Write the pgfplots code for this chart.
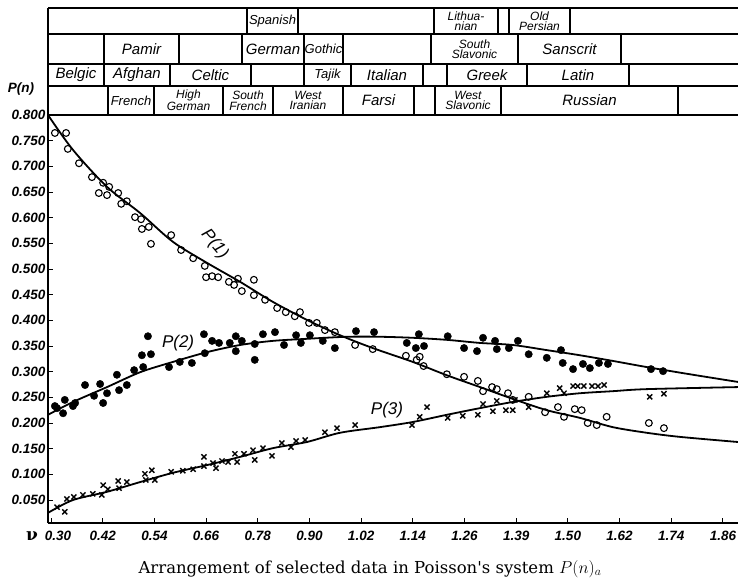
\documentclass[border=0pt]{standalone}
\usepackage{pgfplots}
\pgfplotsset{compat=1.18}
\usepackage{fontspec}
\newfontfamily\handfont{Liberation Sans}
\newfontfamily\capfont{DejaVu Serif}

\newcommand{\cellfont}{\handfont\itshape\fontsize{15}{15}\selectfont}
\newcommand{\narrowfont}{\handfont\itshape\fontsize{13}{13}\selectfont}
\newcommand{\twofont}{\handfont\itshape\fontsize{12}{10.5}\selectfont}
\newcommand{\tickfont}{\handfont\bfseries\itshape\fontsize{13.5}{13.5}\selectfont}

\begin{document}
\begin{tikzpicture}
\useasboundingbox (0pt,0pt) rectangle (738pt,-582pt);

% ---------- table of languages above the plot ----------
\begin{scope}[x=1pt,y=-1pt,line width=1.2pt]
  \foreach \yy in {8,34,64,86,115} \draw (48,\yy) -- (738,\yy);
  \foreach \xx in {48,247,298,434,498,509,570} \draw (\xx,8) -- (\xx,34);
  \foreach \xx in {48,104,179,242,304,343,431,518,621} \draw (\xx,34) -- (\xx,64);
  \foreach \xx in {48,104,170,251,304,351,423,447,527,629} \draw (\xx,64) -- (\xx,86);
  \foreach \xx in {48,108,154,223,273,343,414,435,501,678} \draw (\xx,86) -- (\xx,115);
  % row 1
  \node[font=\narrowfont] at (272.5,21) {Spanish};
  \node[font=\twofont,align=center] at (466,21) {Lithua-\\nian};
  \node[font=\twofont,align=center] at (539.5,21) {Old\\Persian};
  % row 2
  \node[font=\cellfont] at (141.5,49) {Pamir};
  \node[font=\cellfont] at (273,49) {German};
  \node[font=\narrowfont] at (323.5,49) {Gothic};
  \node[font=\twofont,align=center] at (474.5,49) {South\\Slavonic};
  \node[font=\cellfont] at (569.5,49) {Sanscrit};
  % row 3
  \node[font=\cellfont] at (76,75) {Belgic};
  \node[font=\cellfont] at (137,75) {Afghan};
  \node[font=\cellfont] at (210.5,75) {Celtic};
  \node[font=\narrowfont] at (327.5,75) {Tajik};
  \node[font=\cellfont] at (387,75) {Italian};
  \node[font=\cellfont] at (487,75) {Greek};
  \node[font=\cellfont] at (578,75) {Latin};
  % row 4
  \node[font=\narrowfont] at (131,100.5) {French};
  \node[font=\twofont,align=center] at (188.5,100.5) {High\\German};
  \node[font=\twofont,align=center] at (248,100.5) {South\\French};
  \node[font=\twofont,align=center] at (308,100.5) {West\\Iranian};
  \node[font=\cellfont] at (378.5,100.5) {Farsi};
  \node[font=\twofont,align=center] at (468,100.5) {West\\Slavonic};
  \node[font=\cellfont] at (589.5,100.5) {Russian};
  % axis names and caption
  \node[font=\tickfont] at (21,89) {P(n)};
  \node[font=\capfont\bfseries\fontsize{17}{17}\selectfont] at (32,536) {ν};
  \node[font=\capfont\fontsize{16.5}{16.5}\selectfont] at (370,569)
    {Arrangement of selected data in Poisson's system $P(n)_a$};
\end{scope}

\begin{axis}[
  at={(48pt,-523pt)}, anchor=south west,
  scale only axis, width=690pt, height=408pt,
  xmin=0.293, xmax=1.895, ymin=0.0052, ymax=0.8,
  axis x line*=bottom, axis y line*=left,
  axis line style={line width=1.3pt,-},
  xtick={0.30,0.42,0.54,0.66,0.78,0.90,1.02,1.14,1.26,1.38,1.50,1.62,1.74,1.86},
  xticklabels={\hspace*{14pt}0.30,0.42,0.54,0.66,0.78,0.90,1.02,1.14,1.26,1.39,1.50,1.62,1.74,1.86},
  ytick={0.05,0.10,0.15,0.20,0.25,0.30,0.35,0.40,0.45,0.50,0.55,0.60,0.65,0.70,0.75,0.80},
  yticklabels={0.050,0.100,0.150,0.200,0.250,0.300,0.350,0.400,0.450,0.500,0.550,0.600,0.650,0.700,0.750,0.800},
  tick align=inside, major tick length=5pt,
  tick style={black,line width=1pt},
  ticklabel style={font=\tickfont},
  xticklabel style={yshift=-5pt},
  yticklabel style={xshift=1pt},
  clip=false,
]

% fitted curves
\addplot[smooth, line width=1.8pt, no marks] coordinates {
 (0.293,0.800) (0.351,0.732) (0.430,0.660) (0.507,0.609) (0.583,0.553)
 (0.662,0.512) (0.739,0.475) (0.815,0.436) (0.894,0.401) (0.971,0.371)
 (1.047,0.346) (1.140,0.319) (1.219,0.293) (1.296,0.270) (1.372,0.247)
 (1.451,0.225) (1.528,0.210) (1.604,0.192) (1.683,0.181) (1.760,0.173)
 (1.895,0.163)};
\addplot[smooth, line width=1.8pt, no marks] coordinates {
 (0.293,0.216) (0.351,0.241) (0.430,0.270) (0.507,0.299) (0.583,0.319)
 (0.662,0.338) (0.739,0.352) (0.815,0.360) (0.894,0.364) (0.987,0.368)
 (1.064,0.368) (1.140,0.366) (1.219,0.362) (1.296,0.356) (1.372,0.352)
 (1.451,0.342) (1.528,0.332) (1.604,0.321) (1.683,0.309) (1.783,0.295)
 (1.895,0.280)};
\addplot[smooth, line width=1.8pt, no marks] coordinates {
 (0.293,0.025) (0.351,0.050) (0.430,0.066) (0.507,0.085) (0.583,0.103)
 (0.662,0.118) (0.739,0.134) (0.815,0.151) (0.894,0.163) (0.971,0.181)
 (1.064,0.192) (1.140,0.202) (1.219,0.216) (1.296,0.229) (1.372,0.241)
 (1.451,0.251) (1.528,0.258) (1.604,0.262) (1.683,0.266) (1.895,0.270)};

% P(1): open circles
\addplot[only marks, mark=o, mark size=3.4pt, mark options={line width=1.1pt}] coordinates {
 (0.309,0.765) (0.335,0.765) (0.339,0.734) (0.365,0.706) (0.395,0.679)
 (0.411,0.648) (0.421,0.668) (0.430,0.644) (0.435,0.660) (0.456,0.648)
 (0.463,0.627) (0.476,0.632) (0.495,0.601) (0.509,0.597) (0.511,0.578)
 (0.527,0.582) (0.532,0.549) (0.579,0.566) (0.602,0.537) (0.630,0.521)
 (0.657,0.506) (0.660,0.484) (0.674,0.486) (0.688,0.484) (0.713,0.475)
 (0.725,0.469) (0.734,0.481) (0.743,0.457) (0.771,0.479) (0.771,0.449)
 (0.797,0.440) (0.825,0.424) (0.845,0.416) (0.866,0.408) (0.878,0.416)
 (0.899,0.395) (0.917,0.395) (0.936,0.381) (0.959,0.377) (1.006,0.352)
 (1.047,0.344) (1.124,0.331) (1.149,0.323) (1.156,0.329) (1.165,0.311)
 (1.219,0.295) (1.259,0.290) (1.291,0.282) (1.303,0.262) (1.324,0.270)
 (1.335,0.266) (1.361,0.258) (1.372,0.245) (1.409,0.251) (1.447,0.221)
 (1.477,0.231) (1.491,0.212) (1.516,0.227) (1.532,0.225) (1.546,0.200)
 (1.567,0.196) (1.590,0.212) (1.688,0.200) (1.723,0.190)};

% P(2): filled dots
\addplot[only marks, mark=*, mark size=3.7pt, black] coordinates {
 (0.309,0.233) (0.314,0.229) (0.328,0.219) (0.332,0.245) (0.351,0.233)
 (0.356,0.239) (0.379,0.274) (0.400,0.253) (0.414,0.276) (0.421,0.239)
 (0.430,0.258) (0.453,0.294) (0.458,0.264) (0.476,0.274) (0.493,0.303)
 (0.514,0.309) (0.511,0.332) (0.525,0.369) (0.532,0.334) (0.574,0.309)
 (0.599,0.319) (0.627,0.317) (0.655,0.373) (0.657,0.336) (0.674,0.360)
 (0.690,0.356) (0.715,0.356) (0.729,0.369) (0.729,0.340) (0.743,0.360)
 (0.773,0.354) (0.773,0.323) (0.792,0.373) (0.820,0.377) (0.841,0.352)
 (0.869,0.371) (0.880,0.356) (0.901,0.371) (0.931,0.360) (0.959,0.346)
 (1.008,0.379) (1.050,0.377) (1.126,0.356) (1.147,0.346) (1.154,0.373)
 (1.166,0.350) (1.221,0.369) (1.259,0.346) (1.289,0.340) (1.303,0.366)
 (1.331,0.360) (1.335,0.344) (1.363,0.346) (1.384,0.360) (1.409,0.334)
 (1.451,0.327) (1.484,0.342) (1.488,0.317) (1.512,0.305) (1.535,0.315)
 (1.551,0.307) (1.572,0.317) (1.593,0.315) (1.693,0.305) (1.721,0.301)};

% P(3): crosses
\addplot[only marks, mark=x, mark size=3.6pt, mark options={line width=1.4pt}] coordinates {
 (0.314,0.036) (0.332,0.027) (0.337,0.052) (0.353,0.056) (0.374,0.060)
 (0.397,0.062) (0.418,0.060) (0.421,0.079) (0.432,0.071) (0.456,0.087)
 (0.458,0.073) (0.476,0.085) (0.518,0.101) (0.520,0.089) (0.534,0.108)
 (0.541,0.089) (0.579,0.105) (0.606,0.107) (0.630,0.110) (0.655,0.116)
 (0.655,0.134) (0.676,0.122) (0.683,0.112) (0.697,0.126) (0.711,0.124)
 (0.727,0.140) (0.732,0.124) (0.748,0.140) (0.769,0.147) (0.773,0.128)
 (0.792,0.151) (0.813,0.136) (0.836,0.161) (0.857,0.153) (0.869,0.165)
 (0.890,0.167) (0.936,0.182) (0.964,0.190) (1.006,0.196) (1.138,0.196)
 (1.156,0.212) (1.173,0.231) (1.221,0.210) (1.256,0.214) (1.291,0.216)
 (1.303,0.237) (1.326,0.223) (1.335,0.243) (1.356,0.225) (1.372,0.225)
 (1.377,0.245) (1.409,0.231) (1.451,0.258) (1.481,0.268) (1.491,0.258)
 (1.512,0.272) (1.523,0.272) (1.537,0.272) (1.556,0.272) (1.570,0.272)
 (1.584,0.274) (1.690,0.251) (1.723,0.257)};

% curve names
\node[font=\handfont\itshape\fontsize{17}{17}\selectfont, rotate=-50] at (axis cs:0.680,0.548) {P(1)};
\node[font=\handfont\itshape\fontsize{17}{17}\selectfont] at (axis cs:0.595,0.356) {P(2)};
\node[font=\handfont\itshape\fontsize{17}{17}\selectfont] at (axis cs:1.080,0.225) {P(3)};
\end{axis}
\end{tikzpicture}
\end{document}
